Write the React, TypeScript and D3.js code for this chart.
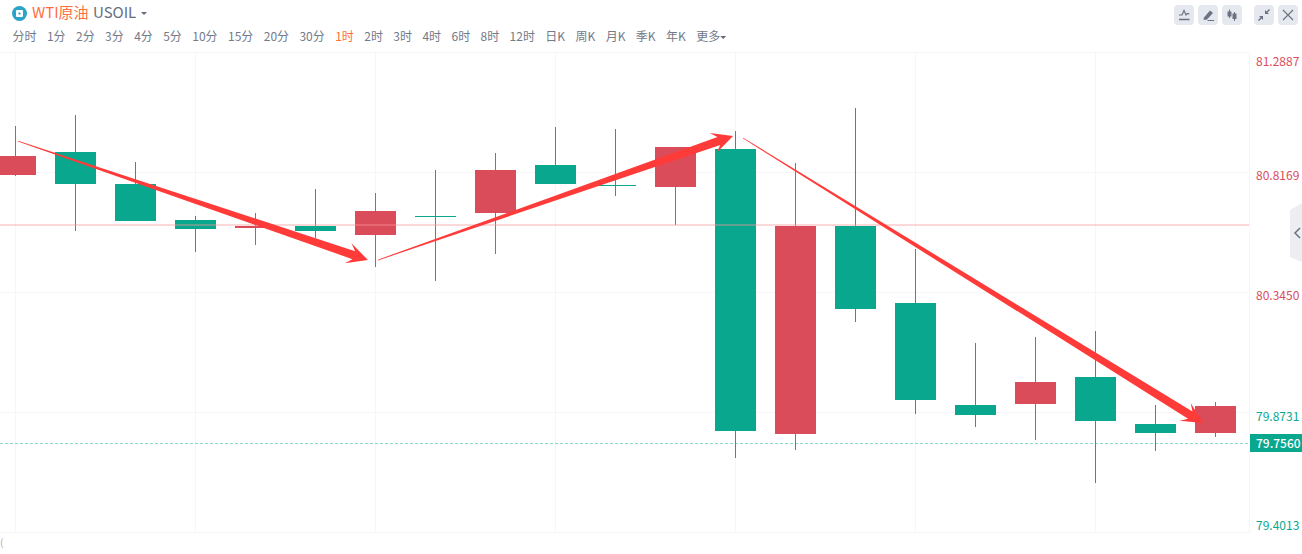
import React, { useEffect, useRef } from 'react';
import * as d3 from 'd3';

// candle values
const opens = [80.809, 80.8994, 80.7736, 80.632, 80.6006, 80.6084, 80.573, 80.6477, 80.6595, 80.8483, 80.7696, 80.7618, 80.9112, 79.7906, 80.6084, 80.3057, 79.9046, 79.9085, 80.0147, 79.8299, 79.7945];
const closes = [80.8837, 80.7736, 80.6281, 80.5966, 80.6084, 80.5888, 80.6674, 80.647, 80.8286, 80.7736, 80.769, 80.9191, 79.8024, 80.6084, 80.2821, 79.9243, 79.8653, 79.995, 79.8417, 79.7945, 79.9007];
const highs = [81.0016, 81.0449, 80.8601, 80.6477, 80.6595, 80.7539, 80.7382, 80.8286, 80.8955, 80.9977, 80.9898, 80.9191, 80.982, 80.8561, 81.0724, 80.518, 80.1484, 80.172, 80.1956, 79.9046, 79.9164];
const lows = [80.805, 80.5888, 80.6281, 80.5062, 80.5337, 80.5612, 80.4472, 80.3922, 80.4983, 80.7736, 80.7264, 80.6124, 79.6962, 79.7277, 80.231, 79.8692, 79.8181, 79.767, 79.5979, 79.7237, 79.7788];

const priceTicks = [81.2887, 80.8169, 80.345, 79.8731, 79.4013];
const priceLabels = ['81.2887', '80.8169', '80.3450', '79.8731', '79.4013'];
const priceLabelUp = [true, true, true, false, false];
const priceLabelDy = [12.5, 7.5, 7, 8, -3];
const gridBars = [0, 3, 6, 9, 12, 15, 18];

const refPrice = 80.6124;
const lastPrice = 79.756;
const lastLabel = '79.7560';

// hand drawn arrows on the chart: [bar, price] tail and tip
const arrowTails = [[0.05, 80.9426], [6.05, 80.4747], [12.133, 80.9544]];
const arrowTips = [[5.883, 80.4747], [11.967, 80.9623], [19.8, 79.8338]];

const tabs = ['分时', '1分', '2分', '3分', '4分', '5分', '10分', '15分', '20分', '30分', '1时', '2时', '3时', '4时', '6时', '8时', '12时', '日K', '周K', '月K', '季K', '年K', '更多'];
const activeTab = '1时';

const GREEN = '#0aa78f';
const RED = '#db4c5a';
const GRID = '#f5f6f8';
const FONT = '"Noto Sans CJK SC", "Noto Sans", sans-serif';
const ICON = '#6d7282';

const App = () => {
  const ref = useRef<SVGSVGElement>(null);

  useEffect(() => {
    const svg = d3.select(ref.current);
    svg.selectAll('*').remove();
    svg.style('font-family', FONT);

    const x = d3.scaleLinear().domain([0, 20]).range([15.5, 1215.5]);
    const y = d3.scaleLinear().domain([79.4013, 81.2887]).range([533, 53]);
    const py = (p: number) => Math.round(y(p));
    const plotRight = 1249;

    // grid
    const grid = svg.append('g').attr('stroke', GRID).attr('fill', 'none');
    grid.selectAll('line.h').data(priceTicks).enter().append('line')
      .attr('class', 'h')
      .attr('x1', 0).attr('x2', plotRight)
      .attr('y1', d => y(d) - 0.5).attr('y2', d => y(d) - 0.5);
    grid.selectAll('line.v').data(gridBars).enter().append('line')
      .attr('class', 'v')
      .attr('x1', d => x(d)).attr('x2', d => x(d))
      .attr('y1', 53).attr('y2', 533);
    grid.append('line').attr('x1', plotRight + 0.5).attr('x2', plotRight + 0.5).attr('y1', 53).attr('y2', 533);

    // last price dashed line sits under the candles
    svg.append('line')
      .attr('x1', 0).attr('x2', plotRight)
      .attr('y1', py(lastPrice) + 0.5).attr('y2', py(lastPrice) + 0.5)
      .attr('stroke', '#8ad8ca').attr('stroke-dasharray', '3,2');

    // candles
    const candle = svg.append('g').selectAll('g').data(opens).enter().append('g')
      .attr('fill', (d, i) => (closes[i] >= d ? RED : GREEN))
      .attr('stroke', (d, i) => (closes[i] >= d ? RED : GREEN));
    candle.append('line')
      .attr('x1', (d, i) => x(i)).attr('x2', (d, i) => x(i))
      .attr('y1', (d, i) => py(highs[i])).attr('y2', (d, i) => py(lows[i]));
    candle.append('rect')
      .attr('stroke', 'none')
      .attr('x', (d, i) => x(i) - 20.5)
      .attr('width', 41)
      .attr('y', (d, i) => py(Math.max(d, closes[i])))
      .attr('height', (d, i) => Math.max(1, py(Math.min(d, closes[i])) - py(Math.max(d, closes[i]))));

    // reference line goes over the candles
    svg.append('line')
      .attr('x1', 0).attr('x2', plotRight)
      .attr('y1', py(refPrice)).attr('y2', py(refPrice))
      .attr('stroke', '#f99a9a').attr('stroke-width', 1.2).attr('stroke-opacity', 0.75);

    // tapered arrows
    const arrowPath = (i: number) => {
      const x0 = x(arrowTails[i][0]) - 0.5;
      const y0 = y(arrowTails[i][1]);
      const x1 = x(arrowTips[i][0]) - 0.5;
      const y1 = y(arrowTips[i][1]);
      const len = Math.hypot(x1 - x0, y1 - y0);
      const ux = (x1 - x0) / len;
      const uy = (y1 - y0) / len;
      const at = (along: number, off: number): [number, number] => [
        x0 + ux * along - uy * off,
        y0 + uy * along + ux * off,
      ];
      const pts = [
        at(0, -0.4), at(len - 15, -4.2), at(len - 21, -10.5), at(len, 0),
        at(len - 21, 10.5), at(len - 15, 4.2), at(0, 0.4),
      ];
      return d3.line()(pts) + 'Z';
    };
    svg.append('g').selectAll('path').data(arrowTails).enter().append('path')
      .attr('d', (d, i) => arrowPath(i))
      .attr('fill', '#ff3b3a');

    // right hand price labels
    svg.append('g').selectAll('text').data(priceTicks).enter().append('text')
      .attr('x', 1256)
      .attr('y', (d, i) => y(d) + priceLabelDy[i])
      .attr('font-size', 12)
      .attr('fill', (d, i) => (priceLabelUp[i] ? RED : GREEN))
      .text((d, i) => priceLabels[i]);

    svg.append('rect')
      .attr('x', 1250).attr('y', py(lastPrice) - 9).attr('width', 52).attr('height', 18)
      .attr('fill', GREEN);
    svg.append('text')
      .attr('x', 1256).attr('y', py(lastPrice) + 5)
      .attr('font-size', 12).attr('font-weight', 500).attr('fill', '#fff')
      .text(lastLabel);

    // side collapse handle
    const side = d3.line();
    svg.append('path')
      .attr('d', side([[1302, 203], [1290, 210], [1290, 257], [1302, 262]]) + 'Z')
      .attr('fill', '#eceef1');
    svg.append('path')
      .attr('d', side([[1300, 228], [1295, 233], [1300, 238]]))
      .attr('fill', 'none').attr('stroke', ICON).attr('stroke-width', 1.5);

    // header
    const head = svg.append('g');
    head.append('circle').attr('cx', 19.5).attr('cy', 13.5).attr('r', 7.5).attr('fill', '#2ba4c8');
    head.append('rect').attr('x', 16).attr('y', 10).attr('width', 7).attr('height', 7).attr('rx', 1).attr('fill', '#fff');
    head.append('rect').attr('x', 18.5).attr('y', 12.5).attr('width', 2).attr('height', 2).attr('fill', '#2ba4c8');
    head.append('text').attr('x', 32).attr('y', 17.5).attr('font-size', 15).attr('fill', '#ff6d3f').text('WTI原油');
    head.append('text').attr('x', 93).attr('y', 17.5).attr('font-size', 15).attr('fill', '#666d7c').text('USOIL');
    head.append('path').attr('d', side([[141, 12], [147, 12], [144, 15]]) + 'Z').attr('fill', '#666d7c');

    // period tabs, laid out one after another by text width
    let tabX = 12.5;
    tabs.forEach(t => {
      const el = head.append('text')
        .attr('x', tabX).attr('y', 41)
        .attr('font-size', 12)
        .attr('fill', t === activeTab ? '#ff6d3f' : '#737a88')
        .text(t);
      const w = (el.node() as SVGTextElement).getComputedTextLength();
      tabX += w + 10.4;
    });
    head.append('path').attr('d', side([[tabX - 10.4, 36], [tabX - 4.4, 36], [tabX - 7.4, 39]]) + 'Z').attr('fill', '#666d7c');

    // toolbar buttons
    const btnX = [1174, 1198, 1222, 1254, 1278];
    const btn = svg.append('g').selectAll('g').data(btnX).enter().append('g')
      .attr('transform', d => `translate(${d},5)`);
    btn.append('rect').attr('width', 20).attr('height', 20).attr('rx', 4).attr('fill', '#e5e8ef');
    const icon = (i: number) => btn.filter((d, k) => k === i).append('g').attr('stroke', ICON).attr('fill', ICON);
    const i0 = icon(0).attr('fill', 'none').attr('stroke-width', 1.2);
    i0.append('path').attr('d', 'M5 10L8 10L10 5.5L12 10L13.5 8.5L15.5 9');
    i0.append('path').attr('d', 'M5 14.5L15.5 14.5').attr('stroke-width', 1.5);
    const i1 = icon(1).attr('stroke', 'none');
    i1.append('path').attr('d', 'M6 12.5L12 5.5L15 8L9 14.5L5.5 15Z');
    i1.append('path').attr('d', 'M9.5 15L16 15L16 16L9.5 16Z');
    const i2 = icon(2).attr('stroke-width', 1);
    i2.append('path').attr('d', 'M7.5 4.5L7.5 13M12.5 7L12.5 16');
    i2.append('rect').attr('x', 5.5).attr('y', 6.5).attr('width', 4).attr('height', 5).attr('stroke', 'none');
    i2.append('rect').attr('x', 10.5).attr('y', 8.5).attr('width', 4).attr('height', 5.5).attr('stroke', 'none');
    const i3 = icon(3).attr('stroke', 'none');
    i3.append('path').attr('d', 'M11 9L11 5L12.5 6.5L15 4L16 5L13.5 7.5L15 9Z');
    i3.append('path').attr('d', 'M9 11L9 15L7.5 13.5L5 16L4 15L6.5 12.5L5 11Z');
    const i4 = icon(4).attr('fill', 'none').attr('stroke-width', 1.2);
    i4.append('path').attr('d', 'M5 5L15 15M15 5L5 15');

    // cropped axis label at the bottom left edge
    svg.append('text').attr('x', 0).attr('y', 546).attr('font-size', 10).attr('fill', '#a6abb8').text('(');
  }, []);

  return (
    <svg
      ref={ref}
      width={1302}
      height={554}
      style={{ position: 'absolute', left: 0, top: 0, display: 'block', background: '#fff' }}
    />
  );
};

export default App;
